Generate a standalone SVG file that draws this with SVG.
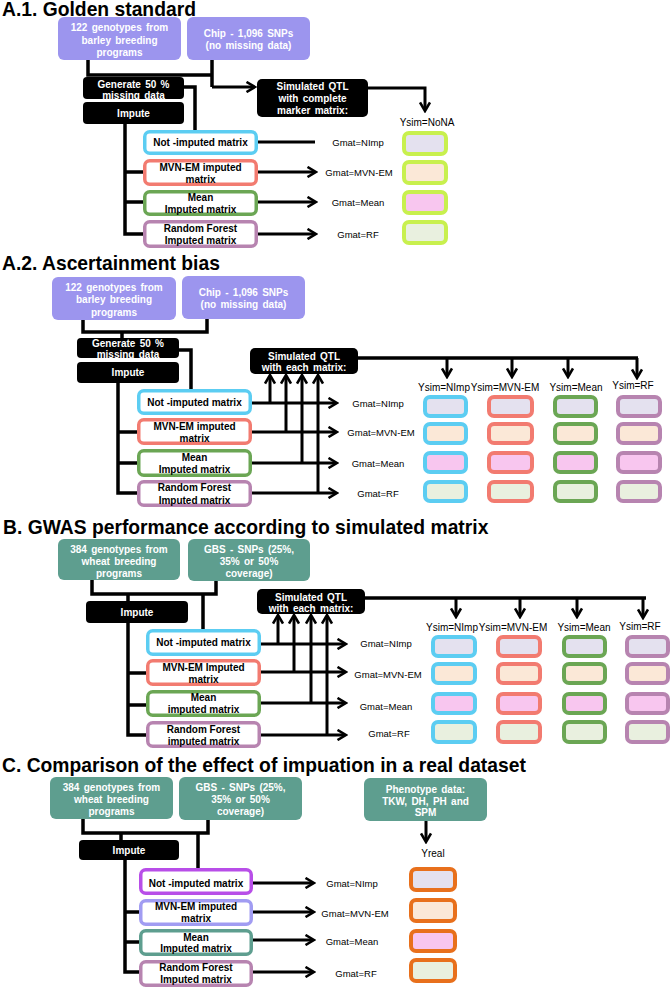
<svg xmlns="http://www.w3.org/2000/svg" width="672" height="989" viewBox="0 0 672 989">
<defs>
<style>
text{font-family:"Liberation Sans",Arial,sans-serif}
.t{font-size:19.3px;font-weight:bold;fill:#000}
.w{font-size:10px;font-weight:bold;fill:#fff;text-anchor:middle;word-spacing:1.5px}
.b{font-size:10px;font-weight:bold;fill:#000;text-anchor:middle}
.g{font-size:9.5px;fill:#000;text-anchor:middle}
.y{font-size:10px;fill:#000;text-anchor:middle}
.pu{fill:#9c95ee}
.te{fill:#5e9e8f}
.bk{fill:#000}
.m{fill:#fff;stroke-width:3.5}
.cy{stroke:#5ccdf2}
.sa{stroke:#f27b70}
.gr{stroke:#6ba654}
.ma{stroke:#b784b0}
.vi{stroke:#b84ee8}
.lv{stroke:#a19cf2}
.tl{stroke:#5e9e8f}
.r{stroke-width:4}
.li{stroke:#c8f04e}
.or{stroke:#e8701c}
.f1{fill:#e4e1ef}
.f2{fill:#fbe8d7}
.f3{fill:#f8c6ef}
.f4{fill:#e9f0df}
.ln{fill:none;stroke:#000;stroke-width:3.5}
.ar{fill:none;stroke:#000;stroke-width:3;marker-end:url(#ah)}
</style>
<marker id="ah" viewBox="0 0 12 12" refX="9" refY="6" markerWidth="12" markerHeight="12" markerUnits="userSpaceOnUse" orient="auto">
<path d="M1.5,1 L10,6 L1.5,11" fill="none" stroke="#000" stroke-width="2.6"/>
</marker>
</defs>
<rect width="672" height="989" fill="#fff"/>

<!-- ================= A.1 ================= -->
<text class="t" x="2" y="15.5">A.1. Golden standard</text>

<g id="connectors">
<!-- A.1 -->
<path class="ln" d="M88,60 V75 H212 M212,60 V87"/>
<path class="ar" d="M212,87 H254"/>
<path class="ln" d="M184,87 H195 V130"/>
<path class="ln" d="M125,124 V234 H143 M125,172 H143 M125,202 H143"/>
<path class="ar" d="M258,142 H315 M258,172 H315"/>
<path class="ar" d="M258,202 H315"/>
<path class="ar" d="M258,234 H315"/>
<path class="ar" d="M368,88 H425 V110"/>
<!-- A.2 -->
<path class="ln" d="M83,320 V332 H207 V319 M122,332 V338"/>
<path class="ln" d="M179,350 H191 V389"/>
<path class="ln" d="M118,383 V493 H137 M118,432 H137 M118,463 H137"/>
<path class="ar" d="M252,403 H336"/>
<path class="ar" d="M252,432 H336"/>
<path class="ar" d="M252,463 H336"/>
<path class="ar" d="M252,493 H336"/>
<path class="ar" d="M270,403 V376"/>
<path class="ar" d="M286,432 V376"/>
<path class="ar" d="M302,463 V376"/>
<path class="ar" d="M318,493 V376"/>
<path class="ln" d="M358,358 H638"/>
<path class="ar" d="M447,358 V376"/>
<path class="ar" d="M512,358 V376"/>
<path class="ar" d="M568,358 V376"/>
<path class="ar" d="M637,358 V377"/>
<!-- B -->
<path class="ln" d="M92,580 V594 H216 V581 M128,594 V601 M203,594 V630"/>
<path class="ln" d="M128,623 V735 H146 M128,673 H146 M128,705 H146"/>
<path class="ar" d="M261,644 H345"/>
<path class="ar" d="M261,672 H345"/>
<path class="ar" d="M261,703 H345"/>
<path class="ar" d="M261,735 H345"/>
<path class="ar" d="M278,644 V616"/>
<path class="ar" d="M294,672 V616"/>
<path class="ar" d="M311,703 V616"/>
<path class="ar" d="M327,735 V616"/>
<path class="ln" d="M365,598 H646"/>
<path class="ar" d="M456,598 V616"/>
<path class="ar" d="M520,598 V616"/>
<path class="ar" d="M577,598 V616"/>
<path class="ar" d="M643,598 V617"/>
<!-- C -->
<path class="ln" d="M83,819 V833 H208 V820 M121,833 V840 M198,833 V868"/>
<path class="ln" d="M125,860 V972 H139 M125,912 H139 M125,942 H139"/>
<path class="ar" d="M253,883 H313"/>
<path class="ar" d="M253,912 H313"/>
<path class="ar" d="M253,940 H313"/>
<path class="ar" d="M253,972 H313"/>
<path class="ar" d="M426,821 V841"/>
</g>

<g id="a1-geno"><rect class="pu" x="58" y="17" width="123" height="43" rx="6"/>
<text class="w" x="119.5" y="31">122 genotypes  from</text><text class="w" x="119.5" y="43.5">barley breeding</text><text class="w" x="119.5" y="55.5">programs</text></g>
<g id="a1-chip"><rect class="pu" x="187" y="17" width="123" height="43" rx="6"/>
<text class="w" x="248.5" y="36.5">Chip - 1,096 SNPs</text><text class="w" x="248.5" y="48.5">(no missing data)</text></g>
<g id="a1-gen"><rect class="bk" x="83" y="77" width="101" height="22" rx="4"/>
<text class="w" x="133.5" y="87.5">Generate 50 %</text><text class="w" x="133.5" y="98.5">missing data</text></g>
<g id="a1-imp"><rect class="bk" x="83" y="102" width="101" height="22" rx="4"/><text class="w" x="133.5" y="116.5">Impute</text></g>
<g id="a1-qtl"><rect class="bk" x="257" y="79" width="111" height="38" rx="5"/>
<text class="w" x="312.5" y="89.5">Simulated QTL</text><text class="w" x="312.5" y="102">with complete</text><text class="w" x="312.5" y="113.5">marker matrix:</text></g>
<g id="a1-nimp"><rect class="m cy" x="144.75" y="131.75" width="111.5" height="21.5" rx="5"/><text class="b" x="200.5" y="146">Not -imputed matrix</text></g>
<g id="a1-mvn"><rect class="m sa" x="144.75" y="160.75" width="111.5" height="23.5" rx="5"/><text class="b" x="200.5" y="170.5">MVN-EM imputed</text><text class="b" x="200.5" y="182.5">matrix</text></g>
<g id="a1-mean"><rect class="m gr" x="144.75" y="191.75" width="111.5" height="22.5" rx="5"/><text class="b" x="200.5" y="200.5">Mean</text><text class="b" x="200.5" y="212.5">Imputed matrix</text></g>
<g id="a1-rf"><rect class="m ma" x="144.75" y="221.75" width="111.5" height="24.5" rx="5"/><text class="b" x="200.5" y="231.5">Random Forest</text><text class="b" x="200.5" y="243.5">Imputed matrix</text></g>
<g id="a1-labels"><text class="g" x="358" y="145.5">Gmat=NImp</text><text class="g" x="359" y="175.5">Gmat=MVN-EM</text><text class="g" x="358" y="205.5">Gmat=Mean</text><text class="g" x="358" y="237.5">Gmat=RF</text>
<text class="y" x="427" y="125.5">Ysim=NoNA</text></g>
<g id="a1-res">
<rect class="r li f1" x="404" y="133" width="42" height="21" rx="5"/>
<rect class="r li f2" x="404" y="162" width="42" height="21" rx="5"/>
<rect class="r li f3" x="404" y="192" width="42" height="21" rx="5"/>
<rect class="r li f4" x="404" y="222" width="42" height="21" rx="5"/>
</g>

<!-- ================= A.2 ================= -->
<text class="t" x="2" y="270">A.2. Ascertainment bias</text>
<g id="a2-geno"><rect class="pu" x="52" y="277" width="124" height="43" rx="6"/>
<text class="w" x="114" y="290.5">122 genotypes  from</text><text class="w" x="114" y="302.5">barley breeding</text><text class="w" x="114" y="315.5">programs</text></g>
<g id="a2-chip"><rect class="pu" x="182" y="276" width="123" height="43" rx="6"/>
<text class="w" x="243.5" y="295.5">Chip - 1,096 SNPs</text><text class="w" x="243.5" y="307.5">(no missing data)</text></g>
<g id="a2-gen"><rect class="bk" x="77" y="338" width="102" height="20" rx="4"/>
<text class="w" x="128" y="346.5">Generate 50 %</text><text class="w" x="128" y="357.5">missing data</text></g>
<g id="a2-imp"><rect class="bk" x="77" y="362" width="102" height="21" rx="4"/><text class="w" x="128" y="375.5">Impute</text></g>
<g id="a2-qtl"><rect class="bk" x="250" y="348" width="108" height="26" rx="5"/>
<text class="w" x="304" y="359.5">Simulated QTL</text><text class="w" x="304" y="370.5">with each matrix:</text></g>
<g id="a2-nimp"><rect class="m cy" x="138.75" y="390.75" width="111.5" height="22.5" rx="5"/><text class="b" x="194.5" y="405.5">Not -imputed matrix</text></g>
<g id="a2-mvn"><rect class="m sa" x="138.75" y="419.75" width="111.5" height="23.5" rx="5"/><text class="b" x="194.5" y="429.5">MVN-EM imputed</text><text class="b" x="194.5" y="441.5">matrix</text></g>
<g id="a2-mean"><rect class="m gr" x="138.75" y="450.75" width="111.5" height="24.5" rx="5"/><text class="b" x="194.5" y="460.5">Mean</text><text class="b" x="194.5" y="472.5">Imputed matrix</text></g>
<g id="a2-rf"><rect class="m ma" x="138.75" y="481.75" width="111.5" height="23.5" rx="5"/><text class="b" x="194.5" y="490.5">Random Forest</text><text class="b" x="194.5" y="503.5">Imputed matrix</text></g>
<g id="a2-labels"><text class="g" x="378" y="406.5">Gmat=NImp</text><text class="g" x="381" y="435.5">Gmat=MVN-EM</text><text class="g" x="378" y="466.5">Gmat=Mean</text><text class="g" x="378" y="496.5">Gmat=RF</text>
<text class="y" x="444" y="390.5">Ysim=NImp</text><text class="y" x="505" y="390.5">Ysim=MVN-EM</text><text class="y" x="576" y="390.5">Ysim=Mean</text><text class="y" x="633" y="388.5">Ysim=RF</text></g>
<g id="a2-res">
<rect class="r cy f1" x="425" y="397" width="41" height="19" rx="5"/><rect class="r sa f1" x="489" y="397" width="43" height="19" rx="5"/><rect class="r gr f1" x="555" y="397" width="41" height="19" rx="5"/><rect class="r ma f1" x="618" y="397" width="42" height="19" rx="5"/>
<rect class="r cy f2" x="425" y="424" width="41" height="19" rx="5"/><rect class="r sa f2" x="489" y="424" width="43" height="19" rx="5"/><rect class="r gr f2" x="555" y="424" width="41" height="19" rx="5"/><rect class="r ma f2" x="618" y="424" width="42" height="19" rx="5"/>
<rect class="r cy f3" x="425" y="453" width="41" height="19" rx="5"/><rect class="r sa f3" x="489" y="453" width="43" height="19" rx="5"/><rect class="r gr f3" x="555" y="453" width="41" height="19" rx="5"/><rect class="r ma f3" x="618" y="453" width="42" height="19" rx="5"/>
<rect class="r cy f4" x="425" y="482" width="41" height="19" rx="5"/><rect class="r sa f4" x="489" y="482" width="43" height="19" rx="5"/><rect class="r gr f4" x="555" y="482" width="41" height="19" rx="5"/><rect class="r ma f4" x="618" y="482" width="42" height="19" rx="5"/>
</g>

<!-- ================= B ================= -->
<text class="t" x="3" y="534">B. GWAS performance according to simulated matrix</text>
<g id="b-geno"><rect class="te" x="58" y="539" width="122" height="41" rx="6"/>
<text class="w" x="119" y="552.5">384 genotypes  from</text><text class="w" x="119" y="564.5">wheat breeding</text><text class="w" x="119" y="576.5">programs</text></g>
<g id="b-gbs"><rect class="te" x="188" y="539" width="122" height="42" rx="6"/>
<text class="w" x="249" y="552.5">GBS - SNPs (25%,</text><text class="w" x="249" y="564.5">35% or 50%</text><text class="w" x="249" y="576.5">coverage)</text></g>
<g id="b-imp"><rect class="bk" x="86" y="601" width="102" height="22" rx="4"/><text class="w" x="137" y="615.5">Impute</text></g>
<g id="b-qtl"><rect class="bk" x="257" y="589" width="108" height="25" rx="5"/>
<text class="w" x="311" y="600.5">Simulated QTL</text><text class="w" x="311" y="611.5">with each matrix:</text></g>
<g id="b-nimp"><rect class="m cy" x="147.75" y="630.75" width="111.5" height="23.5" rx="5"/><text class="b" x="203.5" y="646">Not -imputed matrix</text></g>
<g id="b-mvn"><rect class="m sa" x="147.75" y="660.75" width="111.5" height="23.5" rx="5"/><text class="b" x="203.5" y="670.5">MVN-EM Imputed</text><text class="b" x="203.5" y="682.5">matrix</text></g>
<g id="b-mean"><rect class="m gr" x="147.75" y="691.75" width="111.5" height="23.5" rx="5"/><text class="b" x="203.5" y="700.5">Mean</text><text class="b" x="203.5" y="712.5">imputed matrix</text></g>
<g id="b-rf"><rect class="m ma" x="147.75" y="722.75" width="111.5" height="23.5" rx="5"/><text class="b" x="203.5" y="732.5">Random Forest</text><text class="b" x="203.5" y="744.5">imputed matrix</text></g>
<g id="b-labels"><text class="g" x="386" y="646.5">Gmat=NImp</text><text class="g" x="388" y="677.5">Gmat=MVN-EM</text><text class="g" x="386" y="709.5">Gmat=Mean</text><text class="g" x="389" y="736.5">Gmat=RF</text>
<text class="y" x="452" y="630.5">Ysim=NImp</text><text class="y" x="513" y="630.5">Ysim=MVN-EM</text><text class="y" x="584" y="630.5">Ysim=Mean</text><text class="y" x="640" y="629.5">Ysim=RF</text></g>
<g id="b-res">
<rect class="r cy f1" x="433" y="637" width="42" height="19" rx="5"/><rect class="r sa f1" x="498" y="637" width="42" height="19" rx="5"/><rect class="r gr f1" x="564" y="637" width="41" height="19" rx="5"/><rect class="r ma f1" x="627" y="637" width="41" height="19" rx="5"/>
<rect class="r cy f2" x="433" y="664" width="42" height="19" rx="5"/><rect class="r sa f2" x="498" y="664" width="42" height="19" rx="5"/><rect class="r gr f2" x="564" y="664" width="41" height="19" rx="5"/><rect class="r ma f2" x="627" y="664" width="41" height="19" rx="5"/>
<rect class="r cy f3" x="433" y="694" width="42" height="19" rx="5"/><rect class="r sa f3" x="498" y="694" width="42" height="19" rx="5"/><rect class="r gr f3" x="564" y="694" width="41" height="19" rx="5"/><rect class="r ma f3" x="627" y="694" width="41" height="19" rx="5"/>
<rect class="r cy f4" x="433" y="722" width="42" height="20" rx="5"/><rect class="r sa f4" x="498" y="722" width="42" height="20" rx="5"/><rect class="r gr f4" x="564" y="722" width="41" height="20" rx="5"/><rect class="r ma f4" x="627" y="722" width="41" height="20" rx="5"/>
</g>

<!-- ================= C ================= -->
<text class="t" x="2" y="772">C. Comparison of the effect of impuation in a real dataset</text>
<g id="c-geno"><rect class="te" x="50" y="777" width="123" height="42" rx="6"/>
<text class="w" x="111.5" y="790.5">384 genotypes  from</text><text class="w" x="111.5" y="802.5">wheat breeding</text><text class="w" x="111.5" y="814.5">programs</text></g>
<g id="c-gbs"><rect class="te" x="179" y="777" width="123" height="43" rx="6"/>
<text class="w" x="240.5" y="790.5">GBS - SNPs (25%,</text><text class="w" x="240.5" y="802.5">35% or 50%</text><text class="w" x="240.5" y="814.5">coverage)</text></g>
<g id="c-pheno"><rect class="te" x="364" y="778" width="123" height="43" rx="6"/>
<text class="w" x="425.5" y="792.5">Phenotype data:</text><text class="w" x="425.5" y="804.5">TKW, DH, PH and</text><text class="w" x="425.5" y="815.5">SPM</text></g>
<g id="c-imp"><rect class="bk" x="79" y="840" width="100" height="20" rx="4"/><text class="w" x="129" y="853.5">Impute</text></g>
<g id="c-nimp"><rect class="m vi" x="140.75" y="869.75" width="110.5" height="23.5" rx="5"/><text class="b" x="196" y="886.5">Not -imputed matrix</text></g>
<g id="c-mvn"><rect class="m lv" x="140.75" y="900.75" width="110.5" height="23.5" rx="5"/><text class="b" x="196" y="909.5">MVN-EM imputed</text><text class="b" x="196" y="921.5">matrix</text></g>
<g id="c-mean"><rect class="m tl" x="140.75" y="930.75" width="110.5" height="23.5" rx="5"/><text class="b" x="196" y="940.5">Mean</text><text class="b" x="196" y="951.5">Imputed matrix</text></g>
<g id="c-rf"><rect class="m ma" x="140.75" y="961.75" width="110.5" height="23.5" rx="5"/><text class="b" x="196" y="970.5">Random Forest</text><text class="b" x="196" y="982.5">Imputed matrix</text></g>
<g id="c-labels"><text class="g" x="352" y="886.5">Gmat=NImp</text><text class="g" x="355" y="916.5">Gmat=MVN-EM</text><text class="g" x="352" y="944.5">Gmat=Mean</text><text class="g" x="356" y="976.5">Gmat=RF</text>
<text class="y" x="433" y="856.5">Yreal</text></g>
<g id="c-res">
<rect class="r or f1" x="411" y="869" width="44" height="21" rx="5"/>
<rect class="r or f2" x="411" y="900" width="44" height="21" rx="5"/>
<rect class="r or f3" x="411" y="931" width="44" height="20" rx="5"/>
<rect class="r or f4" x="411" y="960" width="44" height="21" rx="5"/>
</g>
</svg>
